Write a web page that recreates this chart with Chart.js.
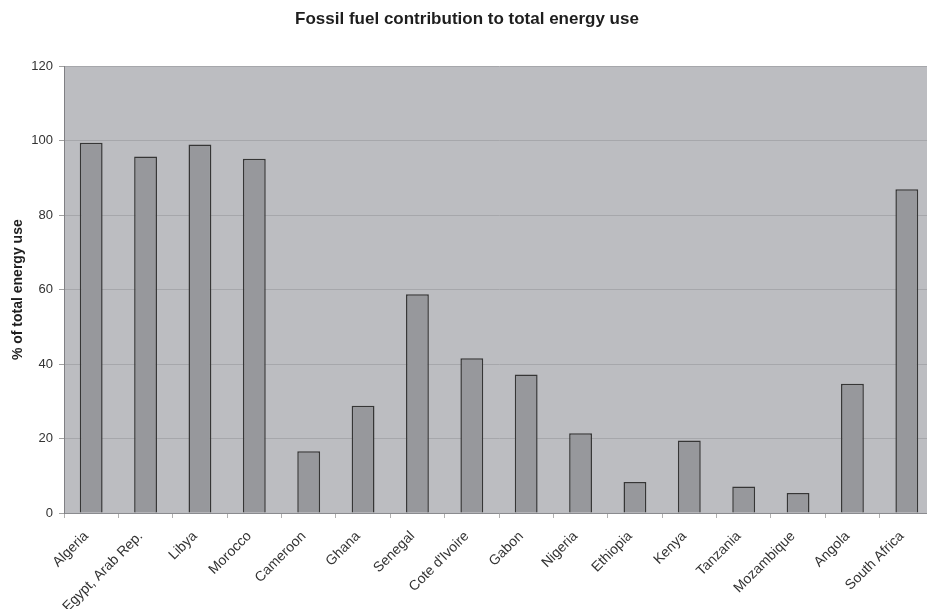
<!DOCTYPE html>
<html>
<head>
<meta charset="utf-8">
<script src="https://cdn.jsdelivr.net/npm/chart.js@4/dist/chart.umd.min.js"></script>
<style>
  html, body { margin: 0; padding: 0; background: #ffffff; overflow: hidden; }
  #wrap { position: absolute; left: 0; top: 0; width: 934px; height: 609px; }
</style>
</head>
<body>
<div id="wrap"><canvas id="chart" width="934" height="609"></canvas></div>
<script>
// Countries along the x axis
const countries = [
  "Algeria", "Egypt, Arab Rep.", "Libya", "Morocco", "Cameroon", "Ghana",
  "Senegal", "Cote d'Ivoire", "Gabon", "Nigeria", "Ethiopia", "Kenya",
  "Tanzania", "Mozambique", "Angola", "South Africa"
];

// Fossil fuel share of total energy use (%)
const fossilShare = [
  99.5, 95.8, 99.0, 95.2, 16.6, 28.8,
  58.8, 41.6, 37.2, 21.4, 8.3, 19.5,
  7.1, 5.4, 34.7, 87.0
];

// Value axis range and step
const yMin = 0;
const yMax = 120;
const yStep = 20;

const plotBackground = {
  id: 'plotBackground',
  beforeDraw(chart) {
    const { ctx, chartArea: a } = chart;
    ctx.save();
    ctx.fillStyle = '#bcbdc1';
    ctx.fillRect(a.left, a.top, a.right - a.left, a.bottom - a.top);
    ctx.restore();
  }
};

new Chart(document.getElementById('chart'), {
  type: 'bar',
  data: {
    labels: countries,
    datasets: [{
      label: '% of total energy use',
      data: fossilShare,
      backgroundColor: '#97989c',
      borderColor: '#363636',
      borderWidth: 1.5,
      categoryPercentage: 1.0,
      barPercentage: 0.42
    }]
  },
  options: {
    responsive: false,
    animation: false,
    devicePixelRatio: 1,
    layout: { padding: 0 },
    plugins: {
      legend: { display: false },
      tooltip: { enabled: false },
      title: {
        display: true,
        text: 'Fossil fuel contribution to total energy use',
        color: '#1e1e1e',
        font: { family: 'Liberation Sans, Arial, sans-serif', size: 17, weight: 'bold' },
        padding: { top: 9, bottom: 37 }
      }
    },
    scales: {
      x: {
        afterFit(scale) { scale.height = 96; },
        border: { display: true, color: '#8a8b8f', width: 1 },
        grid: {
          drawOnChartArea: false,
          drawTicks: true,
          tickLength: 5,
          tickColor: '#b0b0b0',
          offset: true
        },
        ticks: {
          autoSkip: false,
          minRotation: 45,
          maxRotation: 45,
          padding: 10,
          labelOffset: -5,
          color: '#333333',
          font: { family: 'Liberation Sans, Arial, sans-serif', size: 14 }
        }
      },
      y: {
        min: yMin,
        max: yMax,
        afterFit(scale) { scale.width = 64; },
        border: { display: true, color: '#808084', width: 1 },
        grid: {
          color: '#a6a7ab',
          lineWidth: 1,
          drawTicks: true,
          tickLength: 5,
          tickColor: '#a0a0a0'
        },
        ticks: {
          stepSize: yStep,
          padding: 6,
          color: '#333333',
          font: { family: 'Liberation Sans, Arial, sans-serif', size: 13 }
        },
        title: {
          display: true,
          text: '% of total energy use',
          color: '#1e1e1e',
          font: { family: 'Liberation Sans, Arial, sans-serif', size: 14, weight: 'bold' },
          padding: { top: 10, bottom: 0 }
        }
      }
    }
  },
  plugins: [plotBackground]
});
</script>
</body>
</html>
